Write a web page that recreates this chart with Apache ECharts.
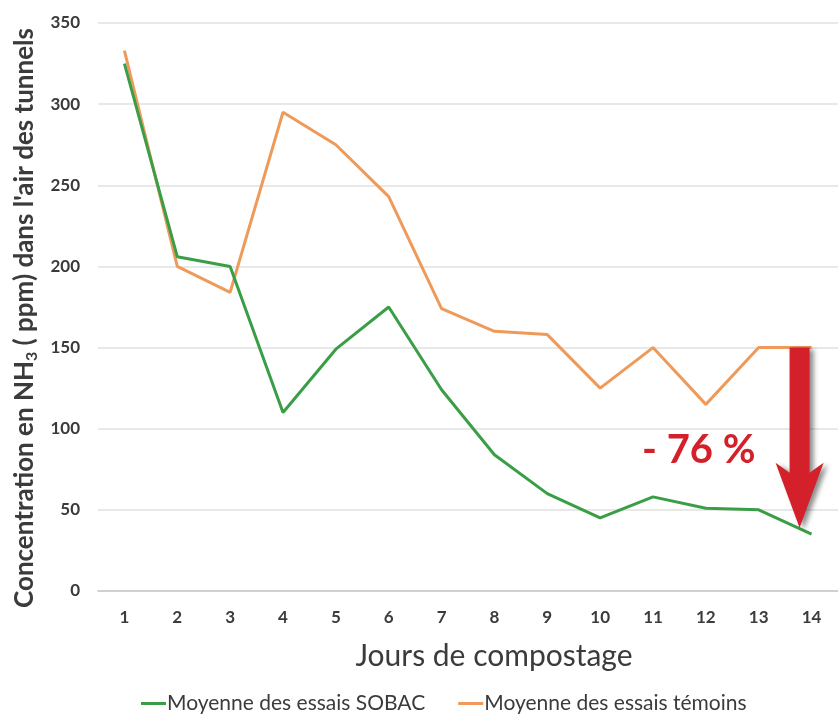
<!DOCTYPE html>
<html>
<head>
<meta charset="utf-8">
<script src="https://cdn.jsdelivr.net/npm/echarts@6/dist/echarts.min.js"></script>
<style>
  html, body { margin: 0; padding: 0; background: #fff; }
  #chart { width: 838px; height: 719px; }
</style>
</head>
<body>
<div id="chart"></div>
<script>
const days = ["1", "2", "3", "4", "5", "6", "7", "8", "9", "10", "11", "12", "13", "14"];
const sobac = [325, 206, 200, 110, 149, 175, 124, 84, 60, 45, 58, 51, 50, 35];
const temoins = [333, 200, 184, 295, 275, 243, 174, 160, 158, 125, 150, 115, 150, 150];
// reduction arrow: from control value to tip near the SOBAC end point on day 14
const arrowFrom = 150;
const arrowTo = 39;
const reductionLabel = "- 76 %";

const FONT = "Lato, 'Open Sans', sans-serif";
const TXT = "#3b3b3b";

function arrowItem(params, api) {
  const top = api.coord([13, arrowFrom]);
  const tip = api.coord([13, arrowTo]);
  const x = top[0] - 12; // drawn just left of the day 14 point
  const y0 = top[1], y1 = tip[1];
  const shaft = 10, head = 24, headLen = 65, notch = 10;
  const pts = [
    [x - shaft, y0], [x + shaft, y0],
    [x + shaft, y1 - headLen + notch], [x + head, y1 - headLen],
    [x, y1],
    [x - head, y1 - headLen], [x - shaft, y1 - headLen + notch],
  ];
  return {
    type: "group",
    children: [
      {
        type: "polygon",
        shape: { points: pts },
        style: {
          fill: "#d3202a",
          shadowBlur: 5, shadowOffsetX: 4, shadowOffsetY: 2,
          shadowColor: "rgba(0,0,0,0.45)",
        },
      },
      {
        type: "text",
        style: {
          text: reductionLabel,
          x: x - 44, y: y0 + 103,
          align: "right", verticalAlign: "middle",
          fill: "#d3202a",
          font: "bold 40px " + FONT,
        },
      },
    ],
  };
}

const chart = echarts.init(document.getElementById("chart"));
chart.setOption({
  animation: false,
  textStyle: { fontFamily: FONT },
  grid: { left: 98, top: 23, width: 745, height: 568 },
  legend: {
    bottom: 0,
    left: 136,
    itemWidth: 25,
    itemHeight: 3,
    itemGap: 33,
    icon: "rect",
    textStyle: { fontSize: 21, color: TXT, padding: [0, 0, 0, -4] },
    data: ["Moyenne des essais SOBAC", "Moyenne des essais témoins"],
  },
  xAxis: {
    type: "category",
    data: days,
    boundaryGap: true,
    axisTick: { show: false },
    axisLine: { lineStyle: { color: "#c8c8c8", width: 1.5 } },
    axisLabel: { color: TXT, fontSize: 17, fontWeight: "bold", margin: 18 },
    name: "Jours de compostage",
    nameLocation: "middle",
    nameGap: 50,
    nameTextStyle: { fontSize: 30, color: TXT, padding: [0, 0, 0, 52] },
  },
  yAxis: {
    type: "value",
    min: 0,
    max: 350,
    interval: 50,
    axisLine: { show: false },
    axisTick: { show: false },
    splitLine: { lineStyle: { color: "#e0e0e0", width: 1.5 } },
    axisLabel: { color: TXT, fontSize: 17, fontWeight: "bold", margin: 18 },
    name: "{b|Concentration en NH}{s|3}{b| ( ppm) dans l'air des tunnels}",
    nameLocation: "middle",
    nameGap: 52,
    nameTextStyle: {
      color: TXT,
      padding: [0, 22, 0, 0],
      rich: {
        b: { fontSize: 26, fontWeight: "bold", color: TXT, fontFamily: FONT },
        s: { fontSize: 16, fontWeight: "bold", color: TXT, fontFamily: FONT, verticalAlign: "bottom", padding: [14, 0, 0, 0] },
      },
    },
  },
  series: [
    {
      name: "Moyenne des essais SOBAC",
      type: "line",
      data: sobac,
      symbol: "none",
      lineStyle: { color: "#3a9e47", width: 3 },
      itemStyle: { color: "#3a9e47" },
      z: 3,
    },
    {
      name: "Moyenne des essais témoins",
      type: "line",
      data: temoins,
      symbol: "none",
      lineStyle: { color: "#ee9a5a", width: 3 },
      itemStyle: { color: "#ee9a5a" },
      z: 2,
    },
    {
      name: "reduction",
      type: "custom",
      renderItem: arrowItem,
      data: [[13, arrowFrom, arrowTo]],
      silent: true,
      z: 5,
    },
  ],
});
</script>
</body>
</html>
